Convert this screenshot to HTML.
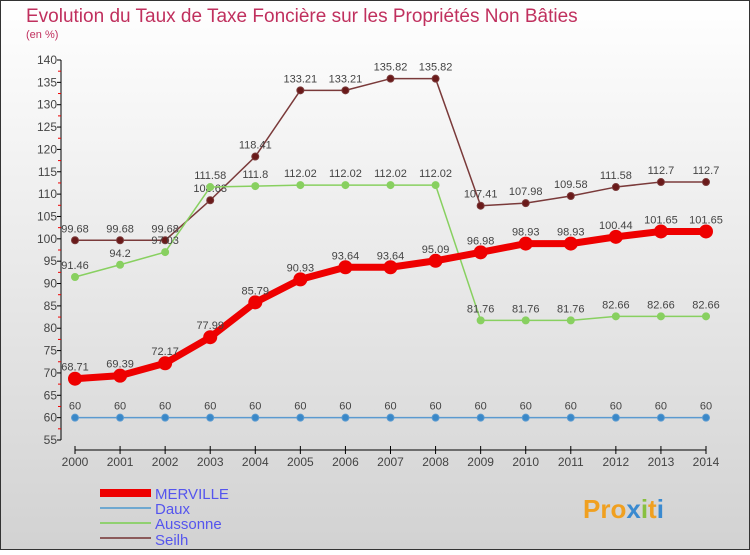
<!DOCTYPE html>
<html><head><meta charset="utf-8"><style>
body{margin:0;}
svg text{font-family:"Liberation Sans",sans-serif;}
</style></head><body>
<svg id="c" width="750" height="550" xmlns="http://www.w3.org/2000/svg">
<defs><linearGradient id="bg" x1="0" y1="0" x2="0" y2="1"><stop offset="0" stop-color="#ffffff"/><stop offset="1" stop-color="#d2d2d2"/></linearGradient></defs>
<rect x="0.5" y="0.5" width="749" height="549" fill="url(#bg)" stroke="#333"/>
<text x="26" y="22" font-size="19" fill="#c0305e">Evolution du Taux de Taxe Foncière sur les Propriétés Non Bâties</text>
<text x="26" y="38" font-size="11" fill="#c0305e">(en %)</text>
<g id="axes"></g><g id="series"></g>
<g>
<rect x="100" y="489" width="51" height="8" fill="#e00"/>
<text x="155" y="499" font-size="15" fill="#5555ee">MERVILLE</text>
<rect x="100" y="507" width="51" height="2" fill="#6fa8d0"/>
<text x="155" y="514" font-size="15" fill="#5555ee">Daux</text>
<rect x="100" y="522" width="51" height="2" fill="#90d070"/>
<text x="155" y="529" font-size="15" fill="#5555ee">Aussonne</text>
<rect x="100" y="537" width="51" height="2" fill="#8b5a5a"/>
<text x="155" y="545" font-size="15" fill="#5555ee">Seilh</text>
</g>
<text x="583" y="518" font-size="26" font-weight="bold" fill="#f0a020">Pro<tspan fill="#3a8ad0">x</tspan><tspan fill="#88c040">i</tspan><tspan fill="#f0a020">t</tspan><tspan fill="#3a8ad0">i</tspan></text>
</svg>
<script>
const years=[2000,2001,2002,2003,2004,2005,2006,2007,2008,2009,2010,2011,2012,2013,2014];
const merville=[68.71,69.39,72.17,77.99,85.79,90.93,93.64,93.64,95.09,96.98,98.93,98.93,100.44,101.65,101.65];
const daux=[60,60,60,60,60,60,60,60,60,60,60,60,60,60,60];
const aussonne=[91.46,94.2,97.03,111.58,111.8,112.02,112.02,112.02,112.02,81.76,81.76,81.76,82.66,82.66,82.66];
const seilh=[99.68,99.68,99.68,108.63,118.41,133.21,133.21,135.82,135.82,107.41,107.98,109.58,111.58,112.7,112.7];
const yTicks=[55,60,65,70,75,80,85,90,95,100,105,110,115,120,125,130,135,140];
const NS="http://www.w3.org/2000/svg";
function X(i){return 75+i*(706-75)/(years.length-1);}
function Y(v){return 440-(v-55)*(380/85);}
function mk(t,a,p){const e=document.createElementNS(NS,t);for(const k in a)e.setAttribute(k,a[k]);p.appendChild(e);return e;}
const ax=document.getElementById('axes');
let yl=mk('line',{x1:61,y1:Y(140),x2:61,y2:Y(55),stroke:'#000'},ax);


yTicks.forEach(v=>{
 mk('line',{x1:57,y1:Y(v),x2:61,y2:Y(v),stroke:'#000'},ax);
 if(v<140)mk('line',{x1:58,y1:Y(v+2.5),x2:61,y2:Y(v+2.5),stroke:'#e00'},ax);
 const t=mk('text',{x:57,y:Y(v)+4,'font-size':12,'text-anchor':'end',fill:'#444'},ax);t.textContent=v;
 
 
});
let xl=mk('line',{x1:75,y1:450,x2:706,y2:450,stroke:'#000'},ax);


years.forEach((y,i)=>{
 mk('line',{x1:X(i),y1:446,x2:X(i),y2:454,stroke:'#000'},ax);
 const t=mk('text',{x:X(i),y:466,'font-size':12,'text-anchor':'middle',fill:'#444'},ax);t.textContent=y;
 
 
});
function path(vals){return 'M'+vals.map((v,i)=>X(i)+','+Y(v)).join(' L');}
const sg=document.getElementById('series');
function series(name,vals,col,w,r,dot){
 const g=mk('g',{},sg);
 
 
 mk('path',{d:path(vals),fill:'none',stroke:col,'stroke-width':w,'stroke-linejoin':'round'},g);
 vals.forEach((v,i)=>{
  const c=mk('circle',{cx:X(i),cy:Y(v),r:r,fill:dot,stroke:col,'stroke-width':1},g);
  
  
  const t=mk('text',{x:X(i),y:Y(v)-8,'font-size':11,'text-anchor':'middle',fill:'#444'},g);t.textContent=v;
  
  
 });}
series('seilh',seilh,'#7a3a3a',1.5,3.5,'#6a1a1a');
series('aussonne',aussonne,'#88d060',1.5,3.5,'#88d060');
series('daux',daux,'#5a9ad0',1.5,3.5,'#3a88c8');
series('merville',merville,'#e00',7,6.5,'#e00');
</script>
</body></html>
